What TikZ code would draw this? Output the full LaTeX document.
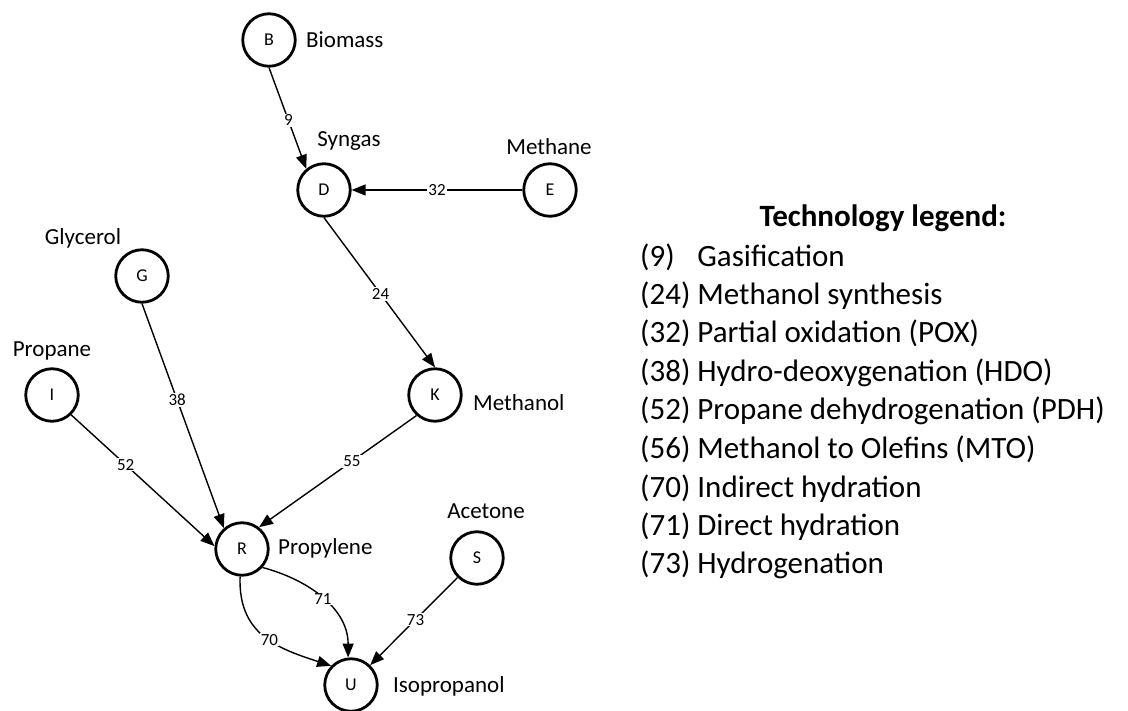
\documentclass[tikz,border=0pt]{standalone}
\usepackage{fontspec}
\setmainfont{Carlito}
\usetikzlibrary{arrows.meta}
\tikzset{
  stnode/.style={circle, draw, line width=2.8pt, minimum size=52.5pt, inner sep=0pt,
    font=\fontsize{18}{21}\selectfont},
  chemname/.style={inner sep=0pt, font=\fontsize{23}{28}\selectfont},
  edge/.style={line width=1.4pt, -{Triangle[length=14pt,width=11pt]}},
  elab/.style={fill=white, inner sep=1pt, font=\fontsize{17}{20}\selectfont},
  legtitle/.style={inner sep=0pt, anchor=base, font=\fontsize{31}{37}\selectfont\bfseries},
  legitem/.style={inner sep=0pt, anchor=base west, font=\fontsize{31}{37}\selectfont}
}
\begin{document}
\begin{tikzpicture}[x=1pt,y=1pt]
\useasboundingbox (0,0) rectangle (1128,-711);

% process states
\node[stnode] (B) at (269,-40) {B};
\node[stnode] (D) at (324,-190) {D};
\node[stnode] (E) at (550,-190) {E};
\node[stnode] (G) at (142,-276) {G};
\node[stnode] (I) at (52,-395) {I};
\node[stnode] (K) at (435,-395) {K};
\node[stnode] (R) at (242,-549) {R};
\node[stnode] (S) at (477,-558) {S};
\node[stnode] (U) at (351,-685) {U};

% chemical names
\node[chemname, anchor=base west] (nB) at (306,-48) {Biomass};
\node[chemname, anchor=base] (nD) at (349,-147) {Syngas};
\node[chemname, anchor=base] (nE) at (549,-155) {Methane};
\node[chemname, anchor=base] (nG) at (83,-245) {Glycerol};
\node[chemname, anchor=base] (nI) at (52,-357) {Propane};
\node[chemname, anchor=base west] (nK) at (473,-410) {Methanol};
\node[chemname, anchor=base west] (nR) at (278,-554) {Propylene};
\node[chemname, anchor=base] (nS) at (486,-518) {Acetone};
\node[chemname, anchor=base west] (nU) at (393,-692) {Isopropanol};

% technologies
\draw[edge] (B.south) -- node[elab, pos=0.52] {9} (D.130);
\draw[edge] (E.west) -- node[elab] {32} (D.east);
\draw[edge] (D.south) -- node[elab, pos=0.51] {24} (K.north);
\draw[edge] (G.south) -- node[elab, pos=0.43] {38} (R.131);
\draw[edge] (I.-46) -- node[elab, pos=0.38] {52} (R.174);
\draw[edge] (K.228) -- node[elab, pos=0.41] {55} (R.52);
\draw[edge] (R.-42) to[out=-15, in=90] node[elab, pos=0.5] {71} (U.96);
\draw[edge] (R.266) to[out=-92, in=162, looseness=1.15] node[elab, pos=0.55] {70} (U.136);
\draw[edge] (S.225) -- node[elab, pos=0.48] {73} (U.46);

% legend
\node[legtitle] (lt) at (883,-227) {Technology legend:};
\node[legitem] (l9)  at (640,-267) {(9)\hphantom{0} Gasification};
\node[legitem] (l24) at (640,-305) {(24) Methanol synthesis};
\node[legitem] (l32) at (640,-343) {(32) Partial oxidation (POX)};
\node[legitem] (l38) at (640,-382) {(38) Hydro-deoxygenation (HDO)};
\node[legitem] (l52) at (640,-420) {(52) Propane dehydrogenation (PDH)};
\node[legitem] (l56) at (640,-458) {(56) Methanol to Olefins (MTO)};
\node[legitem] (l70) at (640,-497) {(70) Indirect hydration};
\node[legitem] (l71) at (640,-535) {(71) Direct hydration};
\node[legitem] (l73) at (640,-573) {(73) Hydrogenation};
\end{tikzpicture}
\end{document}
